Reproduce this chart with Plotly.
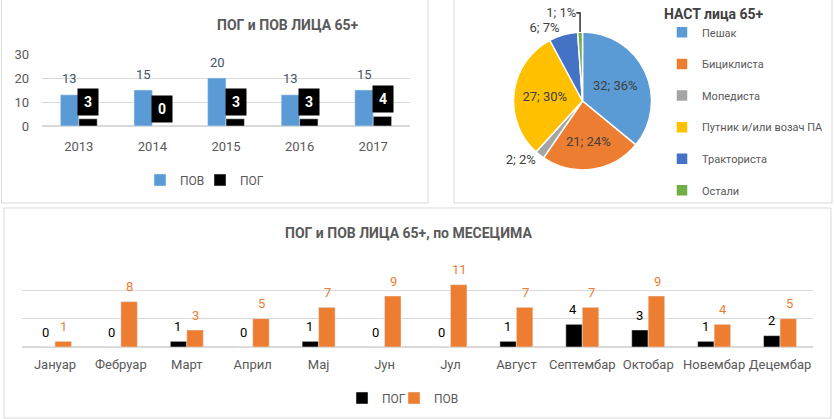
import plotly.graph_objects as go

# --- data -----------------------------------------------------------------
years = ["2013", "2014", "2015", "2016", "2017"]
pov_years = [13, 15, 20, 13, 15]
pog_years = [3, 0, 3, 3, 4]

pie_labels = ["Пешак", "Бициклиста", "Мопедиста", "Путник и/или возач ПА", "Тракториста", "Остали"]
pie_values = [32, 21, 2, 27, 6, 1]
pie_colors = ["#5B9BD5", "#ED7D31", "#A5A5A5", "#FFC000", "#4472C4", "#70AD47"]
pie_textpos = ["inside", "inside", "outside", "inside", "outside", "outside"]

months = ["Јануар", "Фебруар", "Март", "Април", "Мај", "Јун", "Јул",
          "Август", "Септембар", "Октобар", "Новембар", "Децембар"]
pog_months = [0, 0, 1, 0, 1, 0, 0, 1, 4, 3, 1, 2]
pov_months = [1, 8, 3, 5, 7, 9, 11, 7, 7, 9, 4, 5]

W, H = 834, 419
FONT = "Roboto, Open Sans, sans-serif"
GRAY = "#595959"
GRID = "#D9D9D9"


def px_x(p):
    return p / W


def px_y(p):
    return 1 - p / H


fig = go.Figure()

# --- top-left: yearly bars --------------------------------------------------
fig.add_trace(go.Bar(x=years, y=pov_years, name="ПОВ", marker_color="#5B9BD5",
                     xaxis="x", yaxis="y", legend="legend"))
fig.add_trace(go.Bar(x=years, y=pog_years, name="ПОГ", marker_color="#000000",
                     xaxis="x", yaxis="y", legend="legend4"))

# --- top-right: pie -----------------------------------------------------------
fig.add_trace(go.Pie(
    labels=[l + "<br> " for l in pie_labels],  # 2-line entries -> wider legend spacing
    values=pie_values,
    customdata=pie_labels,
    sort=False, direction="clockwise", rotation=0,
    marker=dict(colors=pie_colors, line=dict(color="white", width=1.5)),
    texttemplate="%{value}; %{percent:.0%}",
    textposition=pie_textpos,
    insidetextorientation="horizontal",
    textfont=dict(family=FONT, size=13, color="#404040"),
    hovertemplate="%{customdata}: %{value} (%{percent})<extra></extra>",
    domain=dict(x=[px_x(513.5), px_x(651.5)], y=[px_y(170), px_y(32)]),
    legend="legend2",
))

# --- bottom: monthly bars -------------------------------------------------------
fig.add_trace(go.Bar(x=months, y=pog_months, name="ПОГ", marker_color="#000000",
                     xaxis="x2", yaxis="y2", legend="legend3"))
fig.add_trace(go.Bar(x=months, y=pov_months, name="ПОВ", marker_color="#ED7D31",
                     xaxis="x2", yaxis="y2", legend="legend5"))

annotations = []
# year strings look numeric, so annotations use the category index
for i, v in enumerate(pov_years):
    annotations.append(dict(x=i, y=v, xref="x", yref="y", text=str(v), showarrow=False,
                            xshift=-9, yshift=16, font=dict(size=13, color="#44546A")))
for i, v in enumerate(pog_years):
    annotations.append(dict(x=i, y=v, xref="x", yref="y", text="<b>%d</b>" % v, showarrow=False,
                            xshift=9.5, yshift=17, bgcolor="#000000", width=18, height=24,
                            font=dict(size=14, color="white")))
for i, v in enumerate(pog_months):
    annotations.append(dict(x=i, y=v, xref="x2", yref="y2", text=str(v), showarrow=False,
                            xshift=-9, yshift=15, font=dict(size=13, color="#000000")))
for i, v in enumerate(pov_months):
    annotations.append(dict(x=i, y=v, xref="x2", yref="y2", text=str(v), showarrow=False,
                            xshift=9, yshift=15, font=dict(size=13, color="#ED7D31")))

annotations.append(dict(x=px_x(215), y=px_y(25), xref="paper", yref="paper", showarrow=False,
                        yanchor="middle", text="<b>ПОГ и ПОВ ЛИЦА 65+</b>",
                        font=dict(size=14, color=GRAY)))
annotations.append(dict(x=px_x(408), y=px_y(233), xref="paper", yref="paper", showarrow=False,
                        yanchor="middle", text="<b>ПОГ и ПОВ ЛИЦА 65+, по МЕСЕЦИМА</b>",
                        font=dict(size=14, color=GRAY)))

shapes = [
    dict(type="rect", xref="paper", yref="paper", x0=px_x(1.5), x1=px_x(428), y0=px_y(203), y1=px_y(-1),
         line=dict(color=GRID, width=1)),
    dict(type="rect", xref="paper", yref="paper", x0=px_x(454), x1=px_x(832), y0=px_y(203), y1=px_y(-1),
         line=dict(color=GRID, width=1)),
    dict(type="rect", xref="paper", yref="paper", x0=px_x(4), x1=px_x(831), y0=px_y(418), y1=px_y(208),
         line=dict(color=GRID, width=1)),
]

# one small legend per bar series so the entries can sit as close as in the original
def bar_legend(left_px, mid_px):
    return dict(orientation="h", x=px_x(left_px), xanchor="left", y=px_y(mid_px), yanchor="middle",
                font=dict(size=12, color=GRAY), bgcolor="rgba(0,0,0,0)")


fig.update_layout(
    width=W, height=H,
    margin=dict(l=0, r=0, t=0, b=0, autoexpand=False),
    paper_bgcolor="white", plot_bgcolor="white",
    font=dict(family=FONT, color=GRAY),
    barmode="group", bargap=0.5, bargroupgap=0.0,
    showlegend=True,
    xaxis=dict(domain=[px_x(42), px_x(410)], anchor="y", type="category", showgrid=False,
               showline=False, ticks="", ticklabelstandoff=11, tickfont=dict(size=13, color=GRAY)),
    yaxis=dict(domain=[px_y(126), px_y(54)], anchor="x", range=[0, 30], dtick=10,
               gridcolor=GRID, zerolinecolor=GRID, showline=False, ticks="", ticklabelstandoff=12,
               tickfont=dict(size=13, color=GRAY)),
    xaxis2=dict(domain=[px_x(22), px_x(813)], anchor="y2", type="category", showgrid=False,
                showline=False, ticks="", ticklabelstandoff=8, tickfont=dict(size=13, color=GRAY)),
    yaxis2=dict(domain=[px_y(347), px_y(262)], anchor="x2", range=[0, 15], dtick=5,
                gridcolor=GRID, zerolinecolor=GRID, showticklabels=False, showline=False),
    legend=bar_legend(140, 180),
    legend4=bar_legend(200, 180),
    legend2=dict(x=px_x(662), xanchor="left", y=px_y(0.5), yanchor="top", valign="top",
                 title=dict(text="<b>НАСТ лица 65+</b>", font=dict(size=14, color="#404040")),
                 font=dict(size=11, color=GRAY), bgcolor="rgba(0,0,0,0)"),
    legend3=bar_legend(342, 398),
    legend5=bar_legend(394, 398),
    annotations=annotations,
    shapes=shapes,
)

# page body has an 8px default margin; drop it so the figure sits at 0,0
fig.write_html("out.html", config={"displayModeBar": False},
               post_script="document.body.style.margin='0px';")
